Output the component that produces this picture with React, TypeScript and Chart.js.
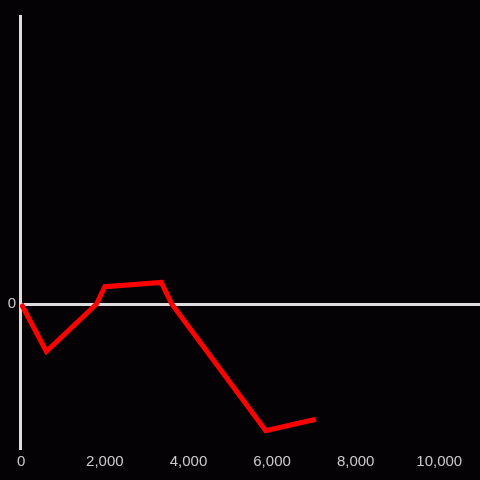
import React, { useEffect, useRef } from "react";
import { Chart, registerables } from "chart.js";

Chart.register(...registerables);

const xValues = [0, 600, 1800, 2000, 3350, 3600, 5850, 7050];
const yValues = [0, -0.33, 0, 0.12, 0.15, 0, -0.88, -0.8];
const xTickValues = [0, 2000, 4000, 6000, 8000, 10000];

export default function App() {
  const ref = useRef<HTMLCanvasElement | null>(null);
  useEffect(() => {
    document.body.style.margin = "0";
    document.body.style.background = "#040205";
    const canvas = ref.current!;
    const bgPlugin = {
      id: "bg",
      beforeDraw(chart: any) {
        const c = chart.ctx;
        c.save();
        c.fillStyle = "#040205";
        c.fillRect(0, 0, chart.width, chart.height);
        c.restore();
      },
    };
    const chart = new Chart(canvas, {
      type: "line",
      data: {
        datasets: [
          {
            data: xValues.map((x, i) => ({ x, y: yValues[i] })),
            borderColor: "#ff0000",
            borderWidth: 5,
            pointRadius: 0,
            tension: 0,
            borderJoinStyle: "miter",
          },
        ],
      },
      options: {
        animation: false,
        responsive: false,
        layout: { padding: { top: 16, right: 0, left: 0, bottom: 0 } },
        plugins: { legend: { display: false }, tooltip: { enabled: false } },
        scales: {
          x: {
            type: "linear",
            min: -30,
            max: 10975,
            afterBuildTicks: (scale: any) => {
              scale.ticks = xTickValues.map((v) => ({ value: v }));
            },
            afterFit: (scale: any) => {
              scale.height = 32;
            },
            grid: { display: false, drawTicks: false },
            border: { display: false },
            ticks: {
              color: "#cccccc",
              font: { family: "Liberation Sans", size: 15 },
              padding: 5,
              maxRotation: 0,
              autoSkip: false,
              callback: (v: any) => Number(v).toLocaleString("en-US"),
            },
          },
          y: {
            min: -1,
            max: 2,
            afterBuildTicks: (scale: any) => {
              scale.ticks = [{ value: 0 }];
            },
            afterFit: (scale: any) => {
              scale.width = 20;
            },
            grid: {
              color: "#dddddd",
              lineWidth: 3,
              drawTicks: false,
            },
            border: { display: true, color: "#dddddd", width: 3 },
            ticks: {
              color: "#cccccc",
              font: { family: "Liberation Sans", size: 15 },
              padding: 4,
              callback: (v: any) => String(v),
            },
          },
        },
      },
      plugins: [bgPlugin],
    });
    return () => chart.destroy();
  }, []);
  return (
    <canvas
      ref={ref}
      width={480}
      height={480}
      style={{ display: "block", width: 480, height: 480 }}
    />
  );
}
